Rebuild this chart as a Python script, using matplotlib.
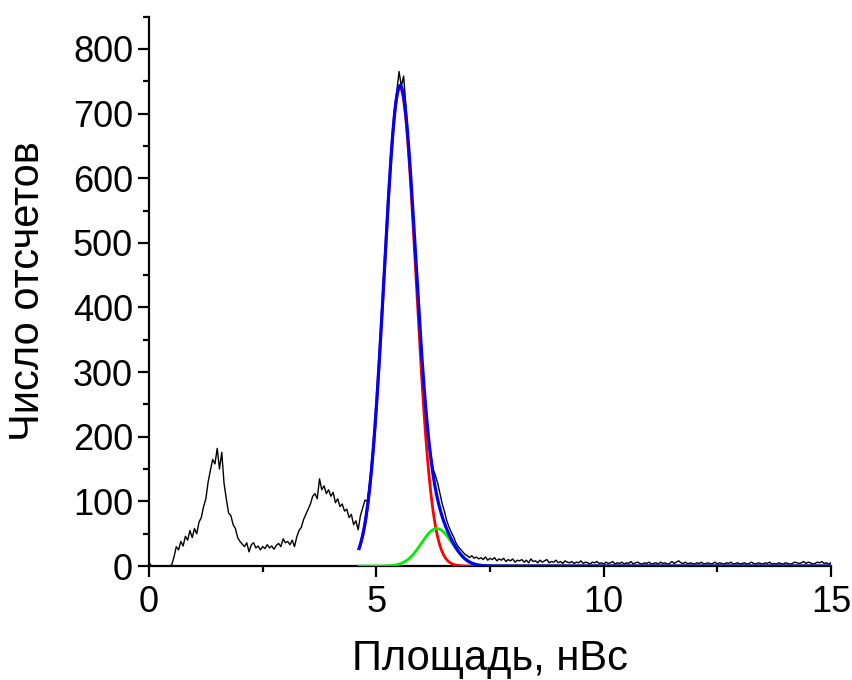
import numpy as np
import matplotlib.pyplot as plt
from matplotlib.ticker import MultipleLocator

plt.rcParams['font.family'] = ['Liberation Sans', 'DejaVu Sans']

# measured spectrum, bin width 0.05 nVs, from 0 to 15
BIN_STEP = 0.05
counts = [
    6, 0, 0, 0, 0, 0, 0, 0, 0, 0,
    2, 14, 30, 25, 38, 31, 46, 40, 55, 44,
    58, 50, 68, 75, 92, 104, 130, 148, 165, 158,
    182, 150, 176, 128, 104, 82, 78, 64, 58, 44,
    38, 34, 30, 36, 22, 33, 36, 28, 31, 25,
    30, 27, 33, 28, 31, 26, 32, 35, 30, 42,
    36, 38, 33, 40, 30, 45, 55, 60, 72, 80,
    88, 96, 108, 112, 104, 135, 118, 124, 112, 118,
    108, 114, 98, 104, 92, 96, 85, 88, 75, 80,
    64, 70, 56, 78, 90, 102, 100, 125, 158, 195,
    240, 300, 355, 425, 485, 545, 610, 650, 705, 735,
    765, 742, 758, 712, 660, 610, 545, 470, 420, 360,
    330, 275, 240, 195, 172, 150, 140, 128, 112, 96,
    84, 70, 60, 52, 45, 36, 30, 26, 22, 18,
    16, 13, 16, 12, 14, 11, 13, 10, 14, 9,
    12, 10, 13, 8, 11, 9, 12, 7, 10, 8,
    11, 6, 9, 8, 10, 6, 9, 5, 11, 7,
    8, 5, 9, 6, 8, 10, 5, 7, 6, 9,
    5, 7, 4, 8, 6, 5, 7, 4, 6, 5,
    8, 4, 6, 5, 3, 6, 5, 7, 4, 5,
    3, 6, 4, 5, 7, 3, 5, 4, 6, 3,
    5, 4, 7, 3, 5, 6, 4, 3, 5, 4,
    6, 3, 4, 5, 3, 6, 4, 5, 3, 4,
    7, 4, 6, 8, 5, 4, 6, 3, 5, 4,
    3, 5, 4, 6, 3, 4, 5, 3, 4, 6,
    3, 5, 4, 3, 5, 4, 6, 3, 4, 5,
    3, 4, 5, 3, 4, 6, 4, 3, 5, 4,
    3, 5, 4, 6, 3, 4, 3, 5, 4, 3,
    5, 4, 3, 4, 6, 5, 4, 5, 7, 4,
    6, 5, 3, 4, 6, 5, 7, 4, 5, 3,
    5,
]

# gaussian fit components: amplitude, centre, sigma
main_peak = (740.0, 5.52, 0.35)
second_peak = (58.0, 6.33, 0.34)
fit_start, fit_end = 4.62, 15.0


def gauss(x, a, mu, s):
    return a * np.exp(-(x - mu) ** 2 / (2 * s ** 2))


x_data = np.arange(len(counts)) * BIN_STEP
x_fit = np.linspace(fit_start, fit_end, 800)
red = gauss(x_fit, *main_peak)
green = gauss(x_fit, *second_peak)
blue = red + green

fig = plt.figure(figsize=(8.53, 6.8), dpi=100)
ax = fig.add_axes([0.1747, 0.1676, 0.7995, 0.808])

ax.plot(x_data, counts, color='black', lw=1.0, zorder=2)
ax.plot(x_fit, red, color='#ff0000', lw=2.0, zorder=3)
ax.plot(x_fit, green, color='#00ee00', lw=2.0, zorder=3)
ax.plot(x_fit, blue, color='#0000ff', lw=2.3, zorder=4)

ax.set_xlim(0, 15)
ax.set_ylim(0, 850)
ax.xaxis.set_major_locator(MultipleLocator(5))
ax.xaxis.set_minor_locator(MultipleLocator(2.5))
ax.yaxis.set_major_locator(MultipleLocator(100))
ax.yaxis.set_minor_locator(MultipleLocator(50))

for side in ('top', 'right'):
    ax.spines[side].set_visible(False)
for side in ('left', 'bottom'):
    ax.spines[side].set_linewidth(1.6)

ax.tick_params(which='major', direction='out', length=8, width=1.6, labelsize=26)
ax.tick_params(which='minor', direction='out', length=4, width=1.6)
ax.tick_params(axis='x', pad=6)

ax.set_xlabel('Площадь, нВс', fontsize=30, labelpad=13)
ax.set_ylabel('Число отсчетов', fontsize=30, labelpad=18)

fig.savefig('out.png', dpi=100)
